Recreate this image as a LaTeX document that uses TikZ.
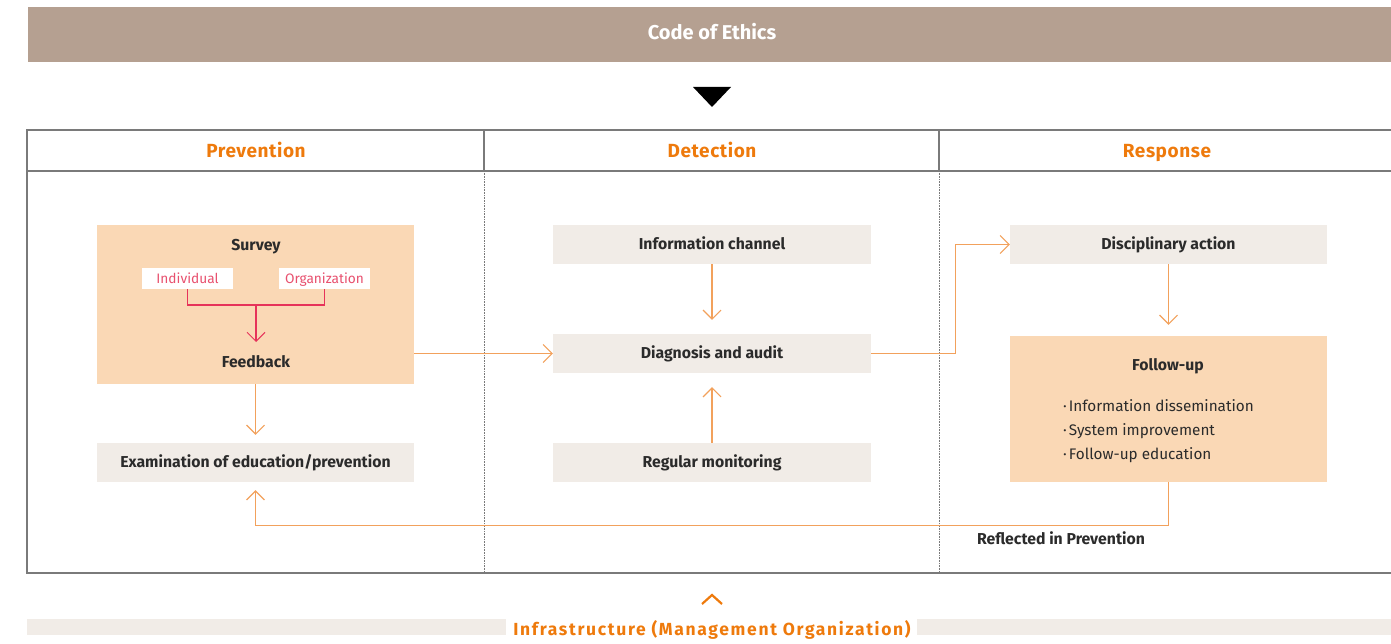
\documentclass[tikz,border=0pt]{standalone}
\usepackage{fontspec}
\setmainfont{Fira Sans}
\usetikzlibrary{arrows.meta}
\definecolor{banner}{HTML}{B5A091}
\definecolor{hdorange}{HTML}{EE7A0C}
\definecolor{salmon}{HTML}{FAD8B5}
\definecolor{lightbox}{HTML}{F1ECE7}
\definecolor{redline}{HTML}{E6335A}
\definecolor{pinktext}{HTML}{E8506E}
\definecolor{conn}{HTML}{F2A15C}
\definecolor{darktext}{HTML}{2B2B2B}
\definecolor{tablegray}{HTML}{7A7A7A}
\tikzset{
  graybox/.style={rectangle, fill=lightbox, minimum width=318pt, minimum height=39pt, inner sep=0pt,
    font=\fontsize{15.8}{18}\selectfont\bfseries, text=darktext, text height=10.9pt, text depth=0pt},
  boxlabel/.style={font=\fontsize{15.8}{18}\selectfont\bfseries, text=darktext, inner sep=0pt, text height=10.9pt, text depth=0pt},
  header/.style={font=\fontsize{19}{22}\selectfont\bfseries\addfontfeature{LetterSpace=3}, text=hdorange, inner sep=0pt, text height=13.1pt, text depth=0pt},
  tagbox/.style={rectangle, fill=white, minimum width=91pt, minimum height=21pt, inner sep=0pt,
    font=\fontsize{13.7}{15}\selectfont, text=pinktext, text height=9.5pt, text depth=0pt},
  conarrow/.style={draw=conn, line width=1.3pt, -{Straight Barb[length=9pt,width=18pt,line width=1.1pt]}},
  redarrow/.style={draw=redline, line width=1.2pt},
  divider/.style={draw=tablegray, line width=0.6pt, dash pattern=on 0.8pt off 0.8pt},
}
\begin{document}
\begin{tikzpicture}[x=1pt,y=-1pt]
\useasboundingbox (0,0) rectangle (1391,644);
% banner
\fill[banner] (28,7) rectangle (1391,62);
\node[font=\fontsize{20}{22}\selectfont\bfseries, text=white, inner sep=0pt, text height=13.8pt, text depth=0pt] (ethics) at (712,33) {Code of Ethics};
\fill[black] (693,87) -- (731,87) -- (712,107) -- cycle;
% table
\draw[tablegray, line width=1.2pt] (1391,130) -- (27,130) -- (27,573) -- (1391,573);
\draw[tablegray, line width=1.2pt] (27,171) -- (1391,171);
\draw[tablegray, line width=1.2pt] (484,130) -- (484,171);
\draw[tablegray, line width=1.2pt] (939,130) -- (939,171);
\draw[divider] (484,171) -- (484,573);
\draw[divider] (939,171) -- (939,573);
\node[header] (hprev) at (256,151) {Prevention};
\node[header] (hdet) at (712,151) {Detection};
\node[header] (hresp) at (1167,151) {Response};
% prevention
\node[rectangle, fill=salmon, minimum width=317pt, minimum height=159pt, inner sep=0pt] (survey) at (255.5,304.5) {};
\node[boxlabel] (surveylbl) at (256,245) {Survey};
\node[tagbox] (indiv) at (187.5,278.5) {Individual};
\node[tagbox] (org) at (324.5,278.5) {Organization};
\coordinate (join) at (256,305);
\draw[redarrow] (indiv.south) |- (join) -| (org.south);
\draw[redarrow, -{Straight Barb[length=9pt,width=18pt,line width=1pt]}] (join) -- ++(0,37);
\node[boxlabel] (feedback) at (256,362) {Feedback};
\node[graybox, minimum width=317pt] (exam) at (255.5,462.5) {Examination of education/prevention};
\draw[conarrow, shorten >=8pt] (survey.south) -- (exam.north);
% detection
\node[graybox] (info) at (712,244.5) {Information channel};
\node[graybox] (diag) at (712,353.5) {Diagnosis and audit};
\node[graybox] (regular) at (712,462.5) {Regular monitoring};
\draw[conarrow, shorten >=14pt] (info.south) -- (diag.north);
\draw[conarrow, shorten >=14pt] (regular.north) -- (diag.south);
\draw[conarrow] (survey.east |- diag.west) -- (diag.west);
% response
\node[graybox, minimum width=317pt] (disc) at (1168.5,244.5) {Disciplinary action};
\node[rectangle, fill=salmon, minimum width=317pt, minimum height=146pt, inner sep=0pt] (follow) at (1168.5,409) {};
\node[boxlabel] (followlbl) at (1168,365) {Follow-up};
\node[anchor=west, align=left, inner sep=0pt, font=\fontsize{15.3}{24}\selectfont, text=darktext] (bullets) at (1063,431)
  {·\kern2pt Information dissemination\\·\kern2pt System improvement\\·\kern2pt Follow-up education};
\draw[conarrow] (diag.east) -- ++(84,0) |- (disc.west);
\draw[conarrow, shorten >=11pt] (disc.south) -- (follow.north);
\draw[conarrow, shorten >=8pt] (follow.south) -- ++(0,43) -| (exam.south);
\node[boxlabel] (reflected) at (1061,539) {Reflected in Prevention};
% infrastructure
\draw[hdorange, line width=2.2pt] (702,604) -- (712,595) -- (722,604);
\fill[lightbox] (27,619) rectangle (506,635);
\fill[lightbox] (917,619) rectangle (1391,635);
\node[font=\fontsize{17.5}{20}\selectfont\bfseries\addfontfeature{LetterSpace=9.5}, text=hdorange, inner sep=0pt, text height=12pt, text depth=0pt] (infra) at (712,629) {Infrastructure (Management Organization)};
\end{tikzpicture}
\end{document}
